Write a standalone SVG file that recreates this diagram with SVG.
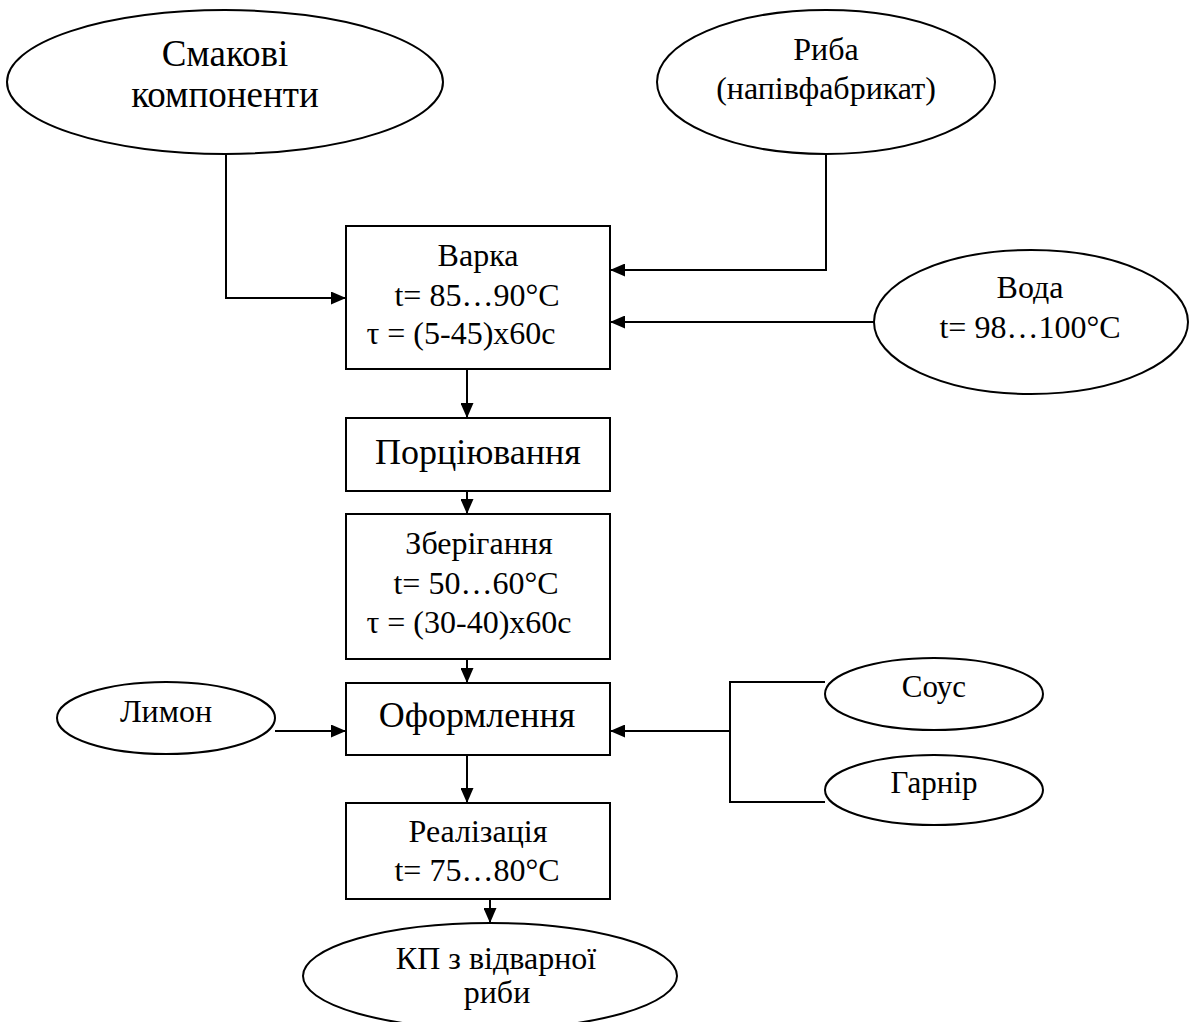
<svg xmlns="http://www.w3.org/2000/svg" width="1191" height="1022" viewBox="0 0 1191 1022">
<style>
.s{fill:#fff;stroke:#000;stroke-width:2}
.c{fill:none;stroke:#000;stroke-width:2}
text{font-family:"Liberation Serif","Times New Roman",serif;fill:#000;text-anchor:middle}
.f32{font-size:32px}
.f36{font-size:36px}
.f37{font-size:37px}
.f31{font-size:31px}
</style>
<defs>
<marker id="ar" viewBox="0 0 15 13" refX="15" refY="6.5" markerWidth="15" markerHeight="13" markerUnits="userSpaceOnUse" orient="auto">
<path d="M0,0 L15,6.5 L0,13 Z" fill="#000"/>
</marker>
</defs>
<rect width="1191" height="1022" fill="#fff"/>
<g id="connectors">
<polyline class="c" points="226,154 226,298 346,298" marker-end="url(#ar)"/>
<polyline class="c" points="826,154 826,270 610,270" marker-end="url(#ar)"/>
<line class="c" x1="874" y1="322" x2="610" y2="322" marker-end="url(#ar)"/>
<line class="c" x1="467" y1="369" x2="467" y2="418" marker-end="url(#ar)"/>
<line class="c" x1="467" y1="491" x2="467" y2="514" marker-end="url(#ar)"/>
<line class="c" x1="467" y1="659" x2="467" y2="683" marker-end="url(#ar)"/>
<line class="c" x1="275" y1="731" x2="346" y2="731" marker-end="url(#ar)"/>
<polyline class="c" points="825,682 730,682 730,802 825,802"/>
<line class="c" x1="730" y1="731" x2="610" y2="731" marker-end="url(#ar)"/>
<line class="c" x1="467" y1="755" x2="467" y2="803" marker-end="url(#ar)"/>
<line class="c" x1="490" y1="899" x2="490" y2="923" marker-end="url(#ar)"/>
</g>
<g id="smakovi">
<ellipse class="s" cx="225" cy="82" rx="218" ry="72"/>
<text class="f37" x="225" y="66">Смакові</text>
<text class="f37" x="225" y="107">компоненти</text>
</g>
<g id="ryba">
<ellipse class="s" cx="826" cy="82" rx="169" ry="72"/>
<text class="f32" x="826" y="60">Риба</text>
<text class="f32" x="826" y="99">(напівфабрикат)</text>
</g>
<g id="voda">
<ellipse class="s" cx="1031" cy="322" rx="157" ry="72"/>
<text class="f32" x="1030" y="298">Вода</text>
<text class="f32" x="1030" y="338">t= 98…100°C</text>
</g>
<g id="varka">
<rect class="s" x="346" y="226" width="264" height="143"/>
<text class="f32" x="478" y="266">Варка</text>
<text class="f32" x="477" y="306">t= 85…90°C</text>
<text class="f32" x="461" y="344">τ = (5-45)x60c</text>
</g>
<g id="portsiiuvannia">
<rect class="s" x="346" y="418" width="264" height="73"/>
<text class="f36" x="478" y="464">Порціювання</text>
</g>
<g id="zberihannia">
<rect class="s" x="346" y="514" width="264" height="145"/>
<text class="f32" x="479" y="554">Зберігання</text>
<text class="f32" x="476" y="594">t= 50…60°C</text>
<text class="f32" x="469" y="633">τ = (30-40)x60c</text>
</g>
<g id="oformlennia">
<rect class="s" x="346" y="683" width="264" height="72"/>
<text class="f36" x="477" y="727">Оформлення</text>
</g>
<g id="lymon">
<ellipse class="s" cx="166" cy="718" rx="109" ry="36"/>
<text class="f32" x="166" y="722">Лимон</text>
</g>
<g id="sous">
<ellipse class="s" cx="934" cy="694" rx="109" ry="36"/>
<text class="f31" x="934" y="697">Соус</text>
</g>
<g id="harnir">
<ellipse class="s" cx="934" cy="790" rx="109" ry="35"/>
<text class="f31" x="934" y="793">Гарнір</text>
</g>
<g id="realizatsiia">
<rect class="s" x="346" y="803" width="264" height="96"/>
<text class="f32" x="478" y="842">Реалізація</text>
<text class="f32" x="477" y="881">t= 75…80°C</text>
</g>
<g id="kp">
<ellipse class="s" cx="490" cy="976" rx="187" ry="53"/>
<text class="f32" x="496" y="969">КП з відварної</text>
<text class="f32" x="497" y="1003">риби</text>
</g>
</svg>
